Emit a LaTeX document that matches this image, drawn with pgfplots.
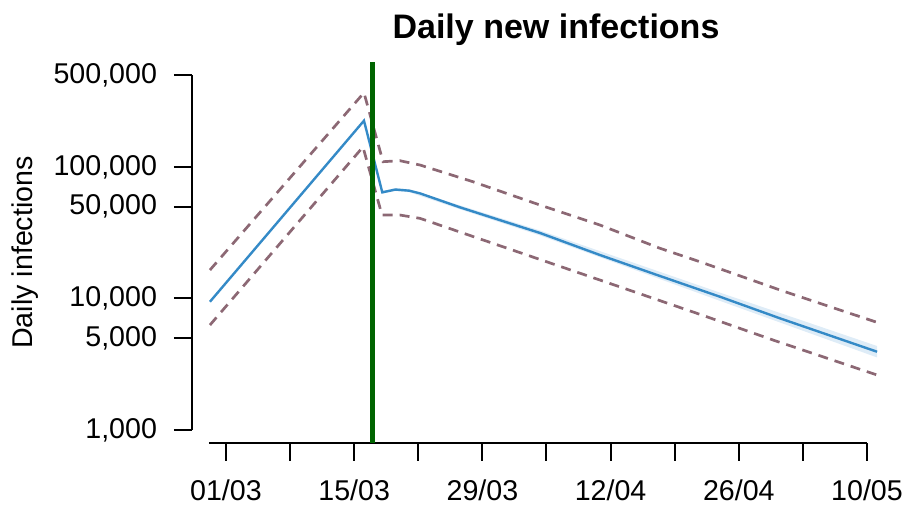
\documentclass[border=0pt]{standalone}
\usepackage{pgfplots}
\pgfplotsset{compat=1.18}
\usepgfplotslibrary{fillbetween}
\usepackage{fontspec}
\setmainfont{Liberation Sans}

\definecolor{fitblue}{RGB}{52,138,199}
\definecolor{bandblue}{RGB}{222,236,247}
\definecolor{ciline}{RGB}{140,104,116}
\definecolor{lockgreen}{RGB}{0,100,0}

\begin{document}
\begin{tikzpicture}
\begin{axis}[
    scale only axis,
    width=360.4pt, height=190.5pt,
    xmin=-3.71, xmax=75,
    ymode=log, ymin=796.4, ymax=627900,
    axis x line*=bottom, axis y line*=left,
    axis line style={draw=none},
    tick align=outside,
    major tick length=9pt,
    tick style={black, line width=1pt},
    xminorticks=false, yminorticks=false,
    xtick={0,7,...,70},
    xticklabels={01/03,{},15/03,{},29/03,{},12/04,{},26/04,{},10/05},
    ytick={1000,5000,10000,50000,100000,500000},
    yticklabels={{1,000},{5,000},{10,000},{50,000},{100,000},{500,000}},
    ticklabel style={font=\fontsize{14.3}{17}\selectfont},
    xticklabel style={yshift=-6pt},
    yticklabel style={xshift=-5pt},
    clip=false,
]
% axis lines, R style (detached)
\draw[line width=1pt] (axis cs:-1.86,796.4) -- (axis cs:70,796.4);
\draw[line width=1pt] (axis cs:-3.71,1000) -- (axis cs:-3.71,500000);

% credible band of the fit
\addplot[draw=none, name path=bandup] coordinates {
    (17.07,65570) (18.5,68980) (20,67780) (25.55,51030) (34.3,32870)
    (44,19220) (53.95,11070) (62,7150) (71.1,4350)};
\addplot[draw=none, name path=bandlo] coordinates {
    (17.07,62660) (18.5,65660) (20,64270) (25.55,47630) (34.3,30100)
    (44,17100) (53.95,9580) (62,6020) (71.1,3560)};
\addplot[bandblue, draw=none] fill between[of=bandup and bandlo];

% upper / lower bounds
\addplot[ciline, line width=1.35pt, dash pattern=on 5pt off 3.5pt] coordinates {
    (-1.75,16450) (15.07,366700) (17.15,109600) (19,111500) (21.19,103400)
    (26.97,77200) (34.3,51300) (40.84,36150) (47.4,24050) (51.76,19010)
    (60.5,11590) (71.1,6580)};
\addplot[ciline, line width=1.35pt, dash pattern=on 5pt off 3.5pt] coordinates {
    (-1.75,6280) (14.96,141800) (17.04,43070) (19,43070) (21.19,40650)
    (40.84,13800) (51.76,7570) (59.74,4830) (71.1,2617)};

% fitted daily infections
\addplot[fitblue, line width=1.2pt] coordinates {
    (-1.75,9440) (15.07,224700) (17.07,64100) (18.5,67300) (20,66000)
    (21.19,62950) (25.55,49300) (34.3,31450) (40.84,21390) (47.4,14810)
    (53.95,10300) (60.5,7060) (71.1,3935)};

% intervention date
\addplot[lockgreen, line width=2.3pt] coordinates {(16,796.4) (16,627900)};
\end{axis}

\node[rotate=90, anchor=base, font=\fontsize{14.3}{17}\selectfont]
    at (-79.5pt,95.25pt) {Daily infections};
\node[anchor=base, font=\fontsize{17}{20}\selectfont\bfseries]
    at (182pt,202pt) {Daily new infections};

\pgfresetboundingbox
\path[use as bounding box] (-96pt,-38pt) rectangle (360pt,221.5pt);
\end{tikzpicture}
\end{document}
